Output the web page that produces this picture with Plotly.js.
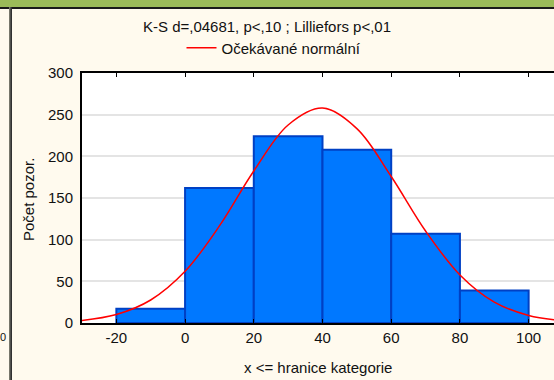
<!DOCTYPE html>
<html>
<head>
<meta charset="utf-8">
<script src="https://cdn.plot.ly/plotly-3.0.1.min.js"></script>
<style>
html,body{margin:0;padding:0;width:554px;height:380px;overflow:hidden;background:#FFFAEE;}
#wrap{position:relative;width:554px;height:380px;overflow:hidden;}
#chart{position:absolute;left:0;top:0;width:572px;height:380px;}
#band{position:absolute;left:0;top:0;width:554px;height:7px;background:#9BBB59;}
#bline{position:absolute;left:0;top:7px;width:554px;height:2px;background:#1a1a1a;}
#vline{position:absolute;left:9px;top:7px;width:3px;height:373px;background:linear-gradient(to right,#8a8a7a,#444 60%,#222);}
#cut{position:absolute;left:0px;top:331px;font:11px "Liberation Sans",Arial,sans-serif;color:#111;}
</style>
</head>
<body>
<div id="wrap">
<div id="chart"></div>
<div id="band"></div>
<div id="bline"></div>
<div id="vline"></div>
<div id="cut">0</div>
</div>
<script>
// Histogram bins (upper boundary categories) and counts
const binCenters = [-10, 10, 30, 50, 70, 90];
const counts = [17, 162, 224, 208, 107, 39];
// Expected normal curve
const curveX = [-30, -20, -10, 0, 10, 20, 30, 40, 50, 60, 70, 80, 90, 100, 110];
const curveY = [3.1, 10.2, 27.6, 62, 116.5, 182.4, 237.6, 257.9, 233.3, 175.8, 110.4, 57.7, 25.1, 9.1, 2.8];
const xTicks = [-20, 0, 20, 40, 60, 80, 100];
const yTicks = [0, 50, 100, 150, 200, 250, 300];

const font = "Liberation Sans, Arial, sans-serif";

const traces = [
  {
    type: 'bar', x: binCenters, y: counts, width: 20,
    marker: {color: '#0078FF', line: {color: '#0040C4', width: 2}},
    showlegend: false, hoverinfo: 'x+y'
  },
  {
    type: 'scatter', mode: 'lines', x: curveX, y: curveY,
    line: {color: '#FF0000', width: 1.5, shape: 'spline', smoothing: 1},
    name: 'Očekávané normální'
  }
];

const layout = {
  width: 572, height: 380,
  margin: {l: 82, r: 9, t: 73, b: 57},
  paper_bgcolor: 'rgba(0,0,0,0)',
  plot_bgcolor: '#FFFFFF',
  font: {family: font, size: 15, color: '#111111'},
  title: {text: 'K-S d=,04681, p<,10 ; Lilliefors p<,01', x: 267/572, xanchor: 'center', xref: 'container',
          y: 1 - 27/380, yanchor: 'middle', yref: 'container', font: {family: font, size: 15, color: '#111'}},
  showlegend: true,
  legend: {x: (274 - 82) / 481, xanchor: 'center', y: (323 - 48) / 250, yanchor: 'middle',
           bgcolor: 'rgba(0,0,0,0)', font: {family: font, size: 15, color: '#111'}, orientation: 'h'},
  bargap: 0,
  xaxis: {
    range: [-30, 110], tickvals: xTicks, ticktext: xTicks.map(String),
    showgrid: false, zeroline: false, showline: true, linecolor: '#000', linewidth: 2,
    mirror: 'ticks', ticks: 'inside', ticklen: 4, tickcolor: '#000', tickwidth: 1,
    tickfont: {family: font, size: 15, color: '#111'}
  },
  yaxis: {
    range: [0, 300], tickvals: yTicks, ticktext: yTicks.map(String),
    showgrid: true, gridcolor: '#E4E4E4', gridwidth: 2, zeroline: false,
    showline: true, linecolor: '#000', linewidth: 2, mirror: true, ticks: '',
    ticklabelstandoff: 4,
    tickfont: {family: font, size: 15, color: '#111'}
  },
  annotations: [
    {text: 'Počet pozor.', xref: 'paper', yref: 'paper', x: (28 - 82) / 481, y: (323 - 200) / 250,
     xanchor: 'center', yanchor: 'middle', textangle: -90, showarrow: false,
     font: {family: font, size: 15, color: '#111'}},
    {text: 'x <= hranice kategorie', xref: 'paper', yref: 'paper', x: (318 - 82) / 481, y: (323 - 367) / 250,
     xanchor: 'center', yanchor: 'middle', showarrow: false,
     font: {family: font, size: 15, color: '#111'}}
  ]
};

Plotly.newPlot('chart', traces, layout, {displayModeBar: false, staticPlot: true});
</script>
</body>
</html>
